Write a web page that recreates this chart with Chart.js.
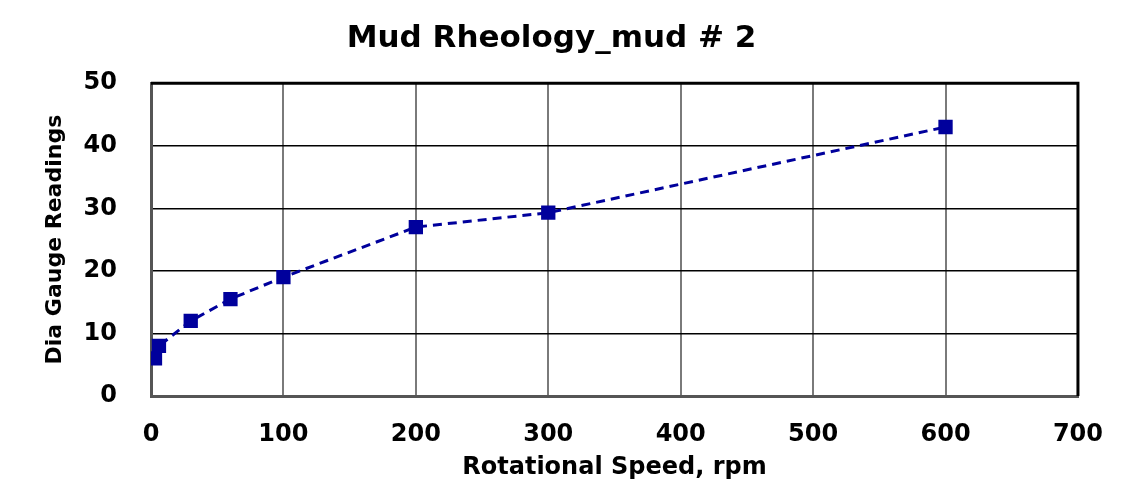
<!DOCTYPE html>
<html>
<head>
<meta charset="utf-8">
<script src="https://cdn.jsdelivr.net/npm/chart.js@4"></script>
<style>
  html, body { margin: 0; padding: 0; background: #fff; }
  #wrap { width: 1127px; height: 500px; }
</style>
</head>
<body>
<div id="wrap"><canvas id="myChart" width="1127" height="500"></canvas></div>
<script>
// rotational speed (rpm) and dial gauge readings
const speeds = [3, 6, 30, 60, 100, 200, 300, 600];
const readings = [6, 8, 12, 15.5, 19, 27, 29.3, 43];

const chartTitle = 'Mud Rheology_mud # 2';
const xTitle = 'Rotational Speed, rpm';
const yTitle = 'Dia Gauge Readings';

const points = speeds.map((s, i) => ({ x: s, y: readings[i] }));
const face = 'DejaVu Sans';

// top and right edges of the plot frame
const frame = {
  id: 'frame',
  afterDraw(chart) {
    const a = chart.chartArea;
    const c = chart.ctx;
    c.save();
    c.strokeStyle = '#000';
    c.lineWidth = 3;
    c.beginPath();
    c.moveTo(a.left, a.top);
    c.lineTo(a.right, a.top);
    c.lineTo(a.right, a.bottom);
    c.stroke();
    c.restore();
  }
};

const ctx = document.getElementById('myChart');
new Chart(ctx, {
  type: 'scatter',
  data: {
    datasets: [{
      label: 'mud # 2',
      data: points,
      showLine: true,
      borderColor: '#00009C',
      backgroundColor: '#00009C',
      borderWidth: 3,
      borderDash: [9, 6],
      pointStyle: 'rect',
      pointRadius: 8,
      pointHoverRadius: 8,
      tension: 0
    }]
  },
  options: {
    responsive: false,
    animation: false,
    layout: { padding: { left: 24, right: 48, top: 0, bottom: 0 } },
    plugins: {
      legend: { display: false },
      tooltip: { enabled: false },
      title: {
        display: true,
        text: chartTitle,
        color: '#000',
        font: { family: face, size: 31, weight: 'bold', lineHeight: 1.2 },
        padding: { top: 20, bottom: 26 }
      }
    },
    scales: {
      x: {
        type: 'linear',
        min: 0,
        max: 700,
        afterFit(s) { s.height = 104; },
        ticks: {
          stepSize: 100,
          color: '#000',
          padding: 24,
          font: { family: face, size: 24, weight: 'bold' }
        },
        grid: { color: '#7a7a7a', lineWidth: 2, drawTicks: false },
        border: { display: true, color: '#555', width: 3 },
        title: {
          display: true,
          text: xTitle,
          color: '#000',
          font: { family: face, size: 24, weight: 'bold', lineHeight: 1.2 },
          padding: { top: 0, bottom: 18 }
        }
      },
      y: {
        min: 0,
        max: 50,
        afterFit(s) { s.width = 127; },
        ticks: {
          stepSize: 10,
          color: '#000',
          padding: 34,
          font: { family: face, size: 24, weight: 'bold' }
        },
        grid: { color: '#000', lineWidth: 1.5, drawTicks: false },
        border: { display: true, color: '#555', width: 3 },
        title: {
          display: true,
          text: yTitle,
          color: '#000',
          font: { family: face, size: 22, weight: 'bold', lineHeight: 1.2 },
          padding: { top: 18, bottom: 0 }
        }
      }
    }
  },
  plugins: [frame]
});
</script>
</body>
</html>
